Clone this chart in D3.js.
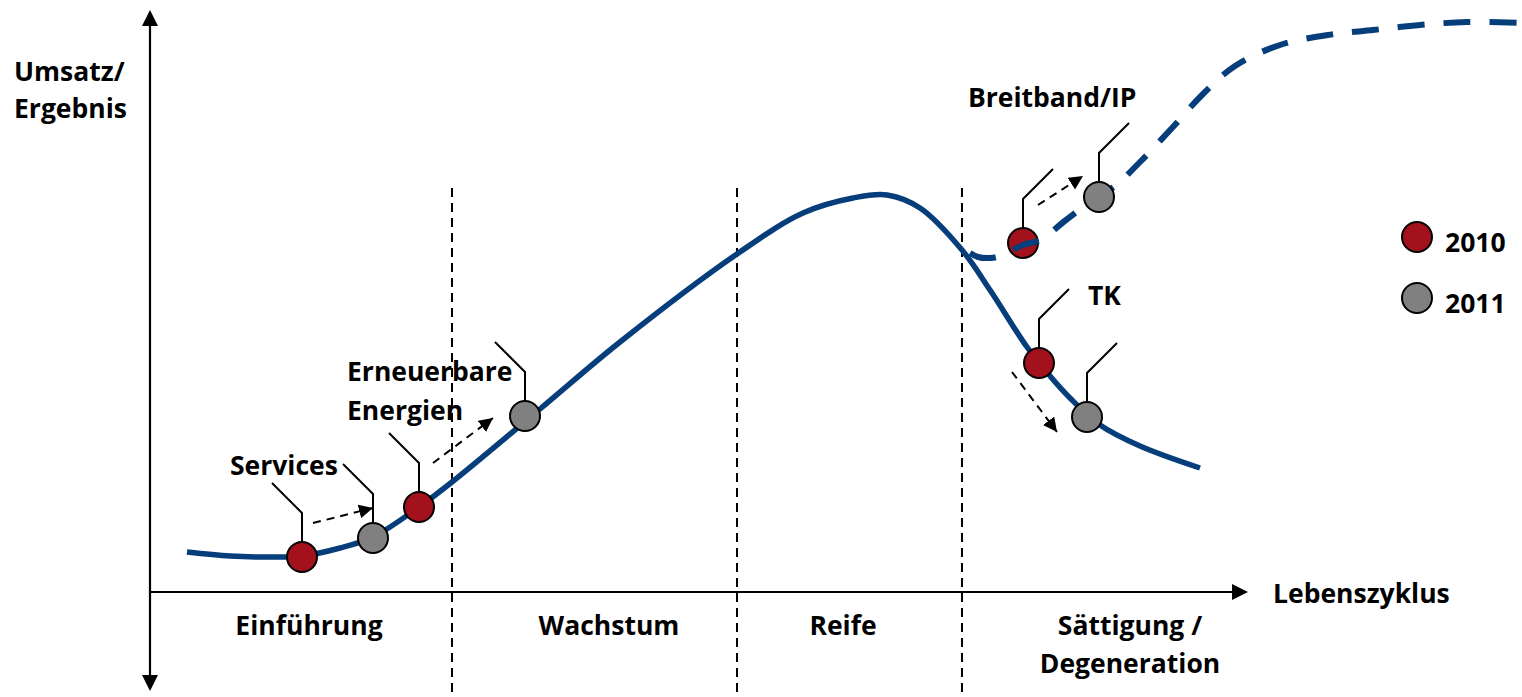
<!DOCTYPE html>
<html><head><meta charset="utf-8">
<script src="https://cdn.jsdelivr.net/npm/d3@7"></script>
<style>html,body{margin:0;padding:0;background:#fff;}svg{display:block;}</style>
</head><body>
<script>
// Units: x = lifecycle position (0 at y-axis), y = Umsatz/Ergebnis level (0 at x-axis)
const mainCurve = [[37,40],[80,36],[120,35],[152,36],[190,44],[223,55],[269,85],[302,110],[390,183],[470,250],[587,338],[653,379],[703,394],[737,397],[770,384],[812,342],[840,302],[877,245],[900,216],[920,194],[950,167],[990,146],[1050,124]];
const dashedCurve = [[820,339],[828,335],[840,334],[850,336],[873,347],[890,352],[916,372],[940,390],[965,406],[990,430],[1022,464],[1053,498],[1085,526],[1130,547],[1178,557],[1223,562],[1270,567],[1317,570],[1372,569]];
const phaseBounds = [302, 587, 812];
const phaseLabels = [
  {lines:["Einführung"], x:159},
  {lines:["Wachstum"], x:459},
  {lines:["Reife"], x:693},
  {lines:["Sättigung /","Degeneration"], x:980}
];
const series = ["2010","2011"];
const seriesColors = ["#a3111c","#808080"];
// markers: [x, y] for 2010 and 2011, leader direction, label
const topics = [
  {name:"Services", p2010:[152,35], p2011:[223,54], lead:-1, arrow:[[163,69],[223,84]], label:[230,475]},
  {name:"Erneuerbare Energien", p2010:[269,85], p2011:[375,176], lead:-1, arrow:[[283,129],[343,174]], label:[347,381]},
  {name:"Breitband/IP", p2010:[873,349], p2011:[949,395], lead:1, arrow:[[888,387],[933,416]], label:[968,107]},
  {name:"TK", p2010:[889,229], p2011:[937,175], lead:1, arrow:[[862,220],[907,160]], label:[1088,305]}
];
const axisLabels = {y:["Umsatz/","Ergebnis"], x:"Lebenszyklus"};

const W = 1522, H = 697;
const x = d3.scaleLinear().domain([0, 1372]).range([150, 1522]);
const y = d3.scaleLinear().domain([0, 592]).range([592, 0]);
const svg = d3.select("body").append("svg").attr("width", W).attr("height", H);
const font = "'Open Sans', 'Liberation Sans', Arial, sans-serif";
const blue = "#053e7b";

const defs = svg.append("defs");
defs.append("marker").attr("id","ah").attr("markerUnits","userSpaceOnUse")
  .attr("markerWidth",16).attr("markerHeight",14).attr("refX",14).attr("refY",7).attr("orient","auto")
  .append("path").attr("d","M0,0 L14,7 L0,14 Z").attr("fill","#000");

// phase dashed lines
svg.selectAll(".phase").data(phaseBounds).join("line")
  .attr("x1", d=>x(d)).attr("x2", d=>x(d)).attr("y1", y(404)).attr("y2", H)
  .attr("stroke","#000").attr("stroke-width",2).attr("stroke-dasharray","9,6");

// axes
const ax = svg.append("g").attr("stroke","#000").attr("stroke-width",2.2);
ax.append("line").attr("x1",x(0)).attr("x2",x(0)).attr("y1",24).attr("y2",676);
ax.append("line").attr("x1",x(0)).attr("x2",1234).attr("y1",y(0)).attr("y2",y(0));
svg.append("path").attr("d",`M${x(0)},10 L${x(0)-8},26 L${x(0)+8},26 Z`).attr("fill","#000");
svg.append("path").attr("d",`M${x(0)},691 L${x(0)-8},675 L${x(0)+8},675 Z`).attr("fill","#000");
svg.append("path").attr("d",`M1248,${y(0)} L1232,${y(0)-8} L1232,${y(0)+8} Z`).attr("fill","#000");

const line = d3.line().x(d=>x(d[0])).y(d=>y(d[1])).curve(d3.curveCatmullRom.alpha(0.5));

// main curve
svg.append("path").attr("d", line(mainCurve)).attr("fill","none").attr("stroke",blue).attr("stroke-width",5.5).attr("stroke-linecap","butt");

function leader(g, p, dir){
  const cx = x(p[0]), cy = y(p[1]);
  g.append("path").attr("d",`M${cx},${cy-15} L${cx},${cy-44} L${cx+dir*30},${cy-74}`)
    .attr("fill","none").attr("stroke","#000").attr("stroke-width",2);
}
const lg = svg.append("g");
topics.forEach(t=>{ leader(lg, t.p2010, t.lead); leader(lg, t.p2011, t.lead); });

// arrows
svg.selectAll(".arr").data(topics).join("line")
  .attr("x1",d=>x(d.arrow[0][0])).attr("y1",d=>y(d.arrow[0][1]))
  .attr("x2",d=>x(d.arrow[1][0])).attr("y2",d=>y(d.arrow[1][1]))
  .attr("stroke","#000").attr("stroke-width",2).attr("stroke-dasharray","8,6").attr("marker-end","url(#ah)");

// 2010 markers
svg.selectAll(".m2010").data(topics).join("circle")
  .attr("cx",d=>x(d.p2010[0])).attr("cy",d=>y(d.p2010[1])).attr("r",15)
  .attr("fill",seriesColors[0]).attr("stroke","#000").attr("stroke-width",2);

// dashed curve (drawn above 2010 markers)
svg.append("path").attr("d", line(dashedCurve)).attr("fill","none").attr("stroke",blue).attr("stroke-width",6).attr("stroke-dasharray","27,19");

// 2011 markers
svg.selectAll(".m2011").data(topics).join("circle")
  .attr("cx",d=>x(d.p2011[0])).attr("cy",d=>y(d.p2011[1])).attr("r",15)
  .attr("fill",seriesColors[1]).attr("stroke","#000").attr("stroke-width",2);

const txt = (xx, yy, s, anchor) => svg.append("text").attr("x",xx).attr("y",yy).text(s)
  .attr("font-family",font).attr("font-weight",700).attr("font-size",26.5).attr("fill","#000")
  .attr("text-anchor",anchor||"start");

// topic labels
topics.forEach(t=>{
  const parts = t.name === "Erneuerbare Energien" ? ["Erneuerbare","Energien"] : [t.name];
  parts.forEach((s,i)=>txt(t.label[0], t.label[1]+i*39, s));
});

// axis labels
axisLabels.y.forEach((s,i)=>txt(14, 81+i*37, s));
txt(1273, 603, axisLabels.x);

// phase labels
phaseLabels.forEach(p=>{
  p.lines.forEach((s,i)=>txt(x(p.x), 635+i*38, s, "middle"));
});

// legend
series.forEach((s,i)=>{
  svg.append("circle").attr("cx",1417).attr("cy",237+i*61).attr("r",15)
    .attr("fill",seriesColors[i]).attr("stroke","#000").attr("stroke-width",2);
  txt(1445, 252+i*61, s);
});
</script>
</body></html>
